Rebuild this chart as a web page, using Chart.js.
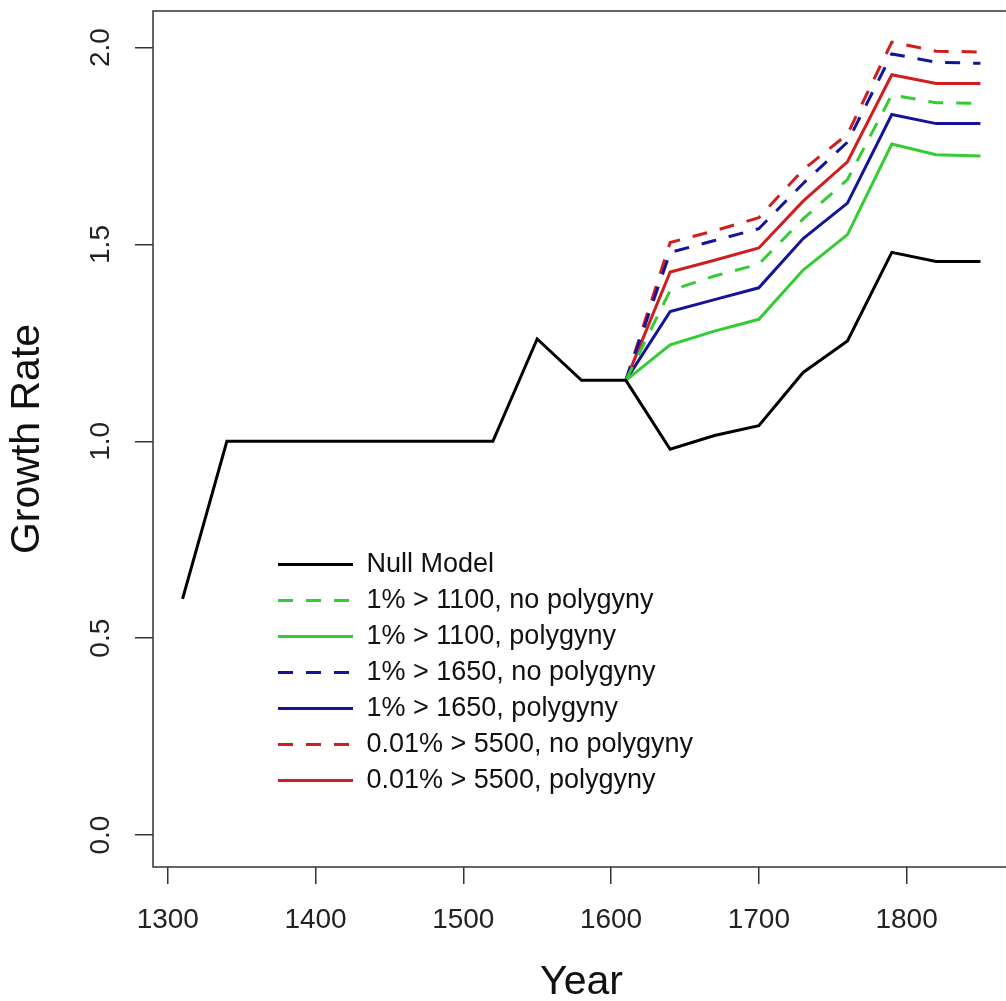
<!DOCTYPE html>
<html>
<head>
<meta charset="utf-8">
<title>Growth Rate</title>
<script src="https://cdn.jsdelivr.net/npm/chart.js@4.4.1/dist/chart.umd.min.js"></script>
<style>
    html, body { margin: 0; padding: 0; background: #fff; overflow: hidden; }
    #growthChart { position: absolute; left: 0; top: 0; }
</style>
</head>
<body>
<canvas id="growthChart" width="1030" height="1001"></canvas>
<script>
// years of the null model (every 30 years)
const years = [1310, 1340, 1370, 1400, 1430, 1460, 1490, 1520, 1550, 1580,
               1610, 1640, 1670, 1700, 1730, 1760, 1790, 1820, 1850];
const nullModel = [0.60, 1.00, 1.00, 1.00, 1.00, 1.00, 1.00, 1.00, 1.26, 1.155,
                   1.155, 0.98, 1.015, 1.04, 1.175, 1.255, 1.48, 1.457, 1.457];

// the scenarios start in 1610
const modelYears = [1610, 1640, 1670, 1700, 1730, 1760, 1790, 1820, 1850];
const green1100NoPoly = [1.155, 1.383, 1.42, 1.45, 1.565, 1.665, 1.88, 1.86, 1.858];
const green1100Poly   = [1.155, 1.245, 1.28, 1.31, 1.435, 1.525, 1.755, 1.728, 1.725];
const blue1650NoPoly  = [1.155, 1.48, 1.51, 1.54, 1.655, 1.76, 1.984, 1.963, 1.96];
const blue1650Poly    = [1.155, 1.33, 1.36, 1.39, 1.515, 1.605, 1.83, 1.807, 1.807];
const red5500NoPoly   = [1.155, 1.505, 1.535, 1.568, 1.69, 1.78, 2.014, 1.991, 1.989];
const red5500Poly     = [1.155, 1.43, 1.46, 1.491, 1.61, 1.71, 1.931, 1.909, 1.909];

const seriesLabels = [
    'Null Model',
    '1% > 1100, no polygyny',
    '1% > 1100, polygyny',
    '1% > 1650, no polygyny',
    '1% > 1650, polygyny',
    '0.01% > 5500, no polygyny',
    '0.01% > 5500, polygyny'
];

const xTicks = [1300, 1400, 1500, 1600, 1700, 1800];
const yTicks = [0, 0.5, 1.0, 1.5, 2.0];

const GREEN = '#33cc33';
const BLUE = '#14149a';
const RED = '#d01e1e';
const DASH = [15, 13];

function toPoints(xs, ys) {
    return xs.map((x, i) => ({ x: x, y: ys[i] }));
}

function makeSet(label, xs, ys, color, dashed) {
    return {
        label: label,
        data: toPoints(xs, ys),
        borderColor: color,
        backgroundColor: color,
        borderWidth: 3,
        borderDash: dashed ? DASH : [],
        pointRadius: 0,
        tension: 0,
        fill: false
    };
}

// box around the plot area (R style frame)
const framePlugin = {
    id: 'frame',
    afterDraw(chart) {
        const { ctx, chartArea } = chart;
        ctx.save();
        ctx.strokeStyle = '#333';
        ctx.lineWidth = 1.5;
        ctx.strokeRect(chartArea.left, chartArea.top,
                       chartArea.right - chartArea.left, chartArea.bottom - chartArea.top);
        ctx.restore();
    }
};

// move the legend inside the plot, lower left
const legendPlacePlugin = {
    id: 'legendPlace',
    afterLayout(chart) {
        const lg = chart.legend;
        if (!lg) return;
        lg.left = 269;
        lg.top = 542;
        lg.width = 480;
        lg.height = 300;
        lg.right = lg.left + lg.width;
        lg.bottom = lg.top + lg.height;
    }
};

// no extra room for the labels: the frame is fixed
function noLabelPadding(s) {
    s.paddingTop = 0;
    s.paddingBottom = 0;
    s.paddingLeft = 0;
    s.paddingRight = 0;
}

const ctx = document.getElementById('growthChart').getContext('2d');
Chart.defaults.font.family = "'Liberation Sans', Arial, sans-serif";
Chart.defaults.color = '#222';

new Chart(ctx, {
    type: 'line',
    data: {
        datasets: [
            makeSet(seriesLabels[0], years, nullModel, '#000', false),
            makeSet(seriesLabels[1], modelYears, green1100NoPoly, GREEN, true),
            makeSet(seriesLabels[2], modelYears, green1100Poly, GREEN, false),
            makeSet(seriesLabels[3], modelYears, blue1650NoPoly, BLUE, true),
            makeSet(seriesLabels[4], modelYears, blue1650Poly, BLUE, false),
            makeSet(seriesLabels[5], modelYears, red5500NoPoly, RED, true),
            makeSet(seriesLabels[6], modelYears, red5500Poly, RED, false)
        ]
    },
    options: {
        responsive: false,
        animation: false,
        events: [],
        layout: {
            padding: { top: 11, right: 20, bottom: 0, left: 0 }
        },
        scales: {
            x: {
                type: 'linear',
                min: 1290,
                max: 1870,
                afterBuildTicks: s => { s.ticks = xTicks.map(v => ({ value: v })); },
                afterFit: s => { s.height = 134; noLabelPadding(s); },
                border: { display: false },
                grid: {
                    drawOnChartArea: false,
                    tickLength: 17,
                    tickColor: '#333',
                    tickWidth: 1.5,
                    lineWidth: 1.5
                },
                ticks: {
                    padding: 19,
                    maxRotation: 0,
                    font: { size: 28 },
                    color: '#222',
                    callback: v => String(v)
                },
                title: {
                    display: true,
                    text: 'Year',
                    font: { size: 41, lineHeight: 0.8 },
                    color: '#111',
                    padding: { top: 0, bottom: 2 }
                }
            },
            y: {
                type: 'linear',
                min: -0.081,
                max: 2.093,
                afterBuildTicks: s => { s.ticks = yTicks.map(v => ({ value: v })); },
                afterFit: s => { s.width = 153; noLabelPadding(s); },
                border: { display: false },
                grid: {
                    drawOnChartArea: false,
                    tickLength: 18,
                    tickColor: '#333',
                    tickWidth: 1.5,
                    lineWidth: 1.5
                },
                ticks: {
                    padding: 14,
                    minRotation: 90,
                    maxRotation: 90,
                    crossAlign: 'center',
                    font: { size: 28 },
                    color: '#222',
                    callback: v => v.toFixed(1)
                },
                title: {
                    display: true,
                    text: 'Growth Rate',
                    font: { size: 41, lineHeight: 1 },
                    color: '#111',
                    padding: { top: 7, bottom: 0 }
                }
            }
        },
        plugins: {
            legend: {
                position: 'chartArea',
                align: 'start',
                labels: {
                    usePointStyle: true,
                    pointStyle: 'line',
                    pointStyleWidth: 75,
                    padding: 9,
                    font: { size: 27 },
                    color: '#111',
                    // keep the dash pattern of each line in the legend
                    generateLabels: chart => {
                        const items = Chart.defaults.plugins.legend.labels.generateLabels(chart);
                        items.forEach(it => {
                            const ds = chart.data.datasets[it.datasetIndex];
                            it.lineDash = ds.borderDash;
                            it.strokeStyle = ds.borderColor;
                            it.lineWidth = ds.borderWidth;
                        });
                        return items;
                    }
                }
            },
            tooltip: { enabled: false }
        }
    },
    plugins: [framePlugin, legendPlacePlugin]
});
</script>
</body>
</html>
